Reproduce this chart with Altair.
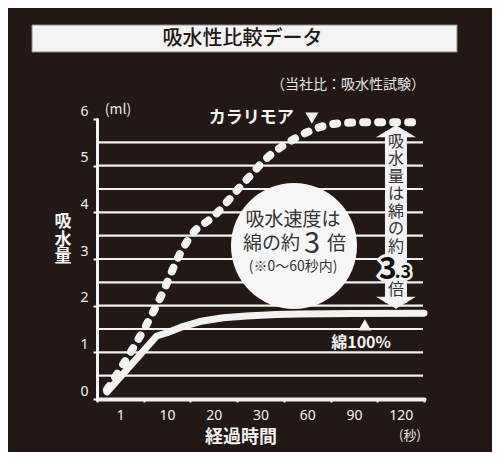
import altair as alt
import pandas as pd

BG = "#231815"
FG = "#f2f2f2"
JP = "Noto Sans CJK JP"

# ---- data ----
time_labels = ["1", "10", "20", "30", "60", "90", "120"]
karari_t = [0, 9.2, 12.7, 15.5, 19.8, 26.3, 35, 50.5, 65.9, 81, 100, 134]
karari_v = [0.2, 2.29, 3.1, 3.55, 3.9, 4.62, 5.19, 5.55, 5.8, 5.91, 5.93, 5.93]
cotton_t = [0, 8, 10, 13, 17, 22, 27, 40, 55, 90, 135]
cotton_v = [0.15, 1.35, 1.42, 1.54, 1.66, 1.74, 1.78, 1.81, 1.82, 1.83, 1.84]
grid_values = [0.5, 1, 1.5, 2, 2.5, 3, 3.5, 4, 4.5, 5, 5.5]
y_ticks = [0, 1, 2, 3, 4, 5, 6]

W, H = 327, 280
band = W / 7
time_domain = [0, 1, 10, 20, 30, 60, 90, 120, 135]
time_range = [10] + [band * (i + 0.5) for i in range(7)] + [W]

xq = alt.X("t:Q", scale=alt.Scale(domain=time_domain, range=time_range, nice=False, zero=False), axis=None)
y_axis = alt.Axis(values=y_ticks, title=None, grid=False, domainColor=FG, domainWidth=3, domainCap="round",
                  tickColor=FG, tickWidth=2, tickSize=4, labelColor=FG, labelFont="Noto Sans",
                  labelFontSize=14, labelPadding=5, labelOffset=-8, labelBaseline="middle")
yq = alt.Y("v:Q", scale=alt.Scale(domain=[0, 6], nice=False, zero=False), axis=y_axis)
yq2 = alt.Y2("v2:Q")

one = pd.DataFrame({"d": [0]})

def pt(t, v, **extra):
    d = {"t": [t], "v": [v]}
    for k, val in extra.items():
        d[k] = [val]
    return pd.DataFrame(d)

layers = []

# x band axis (categories)
xband = alt.Chart(pd.DataFrame({"lab": time_labels})).mark_point(opacity=0).encode(
    x=alt.X("lab:N", sort=time_labels, scale=alt.Scale(paddingInner=0, paddingOuter=0),
            axis=alt.Axis(title=None, labelAngle=0, tickBand="extent", domainColor=FG, domainWidth=4,
                          domainCap="round", tickColor=FG, tickWidth=2, tickSize=3, labelColor=FG,
                          labelFont="Noto Sans", labelFontSize=14, labelPadding=6, grid=False))
)
layers.append(xband)

# gridlines
grid = alt.Chart(pd.DataFrame({"v": grid_values})).mark_rule(color=FG, strokeWidth=2.2).encode(
    y=yq, x=alt.value(0), x2=alt.value(326))
layers.append(grid)

# lines
cotton = alt.Chart(pd.DataFrame({"t": cotton_t, "v": cotton_v})).mark_line(
    color=FG, strokeWidth=7, strokeCap="round", strokeJoin="round", interpolate="linear").encode(x=xq, y=yq)
karari = alt.Chart(pd.DataFrame({"t": karari_t, "v": karari_v})).mark_line(
    color=FG, strokeWidth=8, strokeCap="round", strokeDash=[4, 11], interpolate="monotone").encode(x=xq, y=yq)
layers += [cotton, karari]

# circle annotation
circle = alt.Chart(pt(51.5, 3.28)).mark_point(shape="circle", filled=True, size=126 * 126, color="#f7f7f7",
                                              opacity=1).encode(x=xq, y=yq)
layers.append(circle)

def dtext(txt, t, v, size, color=FG, weight="normal", align="center", **kw):
    return alt.Chart(pt(t, v)).mark_text(text=txt, fontSize=size, color=color, fontWeight=weight, font=JP,
                                         align=align, baseline="middle", **kw).encode(x=xq, y=yq)

layers += [
    dtext("吸水速度は", 50.9, 3.84, 19, color="#333333"),
    dtext("綿の約", 55.4, 3.32, 19, color="#333333", align="right"),
    dtext("3", 63.1, 3.33, 29, color="#333333"),
    dtext("倍", 72.7, 3.32, 19, color="#333333", align="left"),
    dtext("(※0〜60秒内)", 50.9, 2.83, 14, color="#333333"),
]

# series labels
layers += [
    dtext("カラリモア", 28, 6.02, 17, weight="bold"),
    alt.Chart(pt(63, 6.02)).mark_point(shape="triangle-down", filled=True, size=170, color=FG, opacity=1).encode(x=xq, y=yq),
    alt.Chart(pt(97, 1.59)).mark_point(shape="triangle-up", filled=True, size=170, color=FG, opacity=1).encode(x=xq, y=yq),
    dtext("綿100%", 94.6, 1.2, 16, weight="bold"),
]

# double arrow 3.3x
shaft = alt.Chart(pt(117, 5.74, v2=2.06)).mark_rule(color=FG, strokeWidth=22).encode(x=xq, y=yq, y2=yq2)
head_up = alt.Chart(pt(117, 5.74)).mark_point(shape="M-1,0.3L1,0.3L0,-0.3Z", filled=True, size=1600, color=FG,
                                              opacity=1).encode(x=xq, y=yq)
head_dn = alt.Chart(pt(117, 2.06)).mark_point(shape="M-1,-0.3L1,-0.3L0,0.3Z", filled=True, size=1600, color=FG,
                                              opacity=1).encode(x=xq, y=yq)
layers += [shaft, head_up, head_dn]
layers.append(alt.Chart(pt(117, 5.51)).mark_text(text=["吸", "水", "量", "は", "綿", "の", "約"], fontSize=16,
                                                 lineHeight=17.5, color="#333333", font=JP, align="center",
                                                 baseline="middle").encode(x=xq, y=yq))
layers += [
    dtext("3", 111.8, 2.76, 30, color=FG, weight="bold", stroke=FG, strokeWidth=6),
    dtext(".3", 121.5, 2.70, 18, color=FG, weight="bold", stroke=FG, strokeWidth=5),
    dtext("3", 111.8, 2.76, 30, color="#111111", weight="bold"),
    dtext(".3", 121.5, 2.70, 18, color="#111111", weight="bold"),
    dtext("倍", 117, 2.34, 16, color="#333333"),
]

# pixel-positioned texts outside the plot
def ptext(txt, px, py, size, color=FG, weight="normal", align="center", **kw):
    return alt.Chart(one).mark_text(text=txt, fontSize=size, color=color, fontWeight=weight, font=JP,
                                    align=align, baseline="middle", **kw).encode(x=alt.value(px), y=alt.value(py))

banner = alt.Chart(one).mark_rect(fill="#f3f3f3", stroke="#8a8a8a", strokeWidth=1).encode(
    x=alt.value(-65), x2=alt.value(360), y=alt.value(-94), y2=alt.value(-67))
layers += [
    banner,
    ptext("吸水性比較データ", 145.5, -80, 20, color=BG, weight=500),
    ptext("（当社比：吸水性試験）", 251, -34, 14, color="#e6e6e6"),
    ptext("(ml)", 21, -9, 14, color="#e6e6e6"),
    ptext(["吸", "水", "量"], -34, 103, 17, weight="bold", lineHeight=17.5),
    ptext("経過時間", 144, 319, 18, weight="bold"),
    ptext("(秒)", 313, 317, 13, color="#e6e6e6"),
]

chart = alt.layer(*layers).resolve_scale(x="independent").properties(
    width=W, height=H,
    padding={"left": 89, "top": 111, "right": 68, "bottom": 53},
    autosize=alt.AutoSizeParams(type="none"),
    background=BG,
).configure_view(stroke=None)

chart.save("out.html", embed_options={"renderer": "svg", "actions": False})
